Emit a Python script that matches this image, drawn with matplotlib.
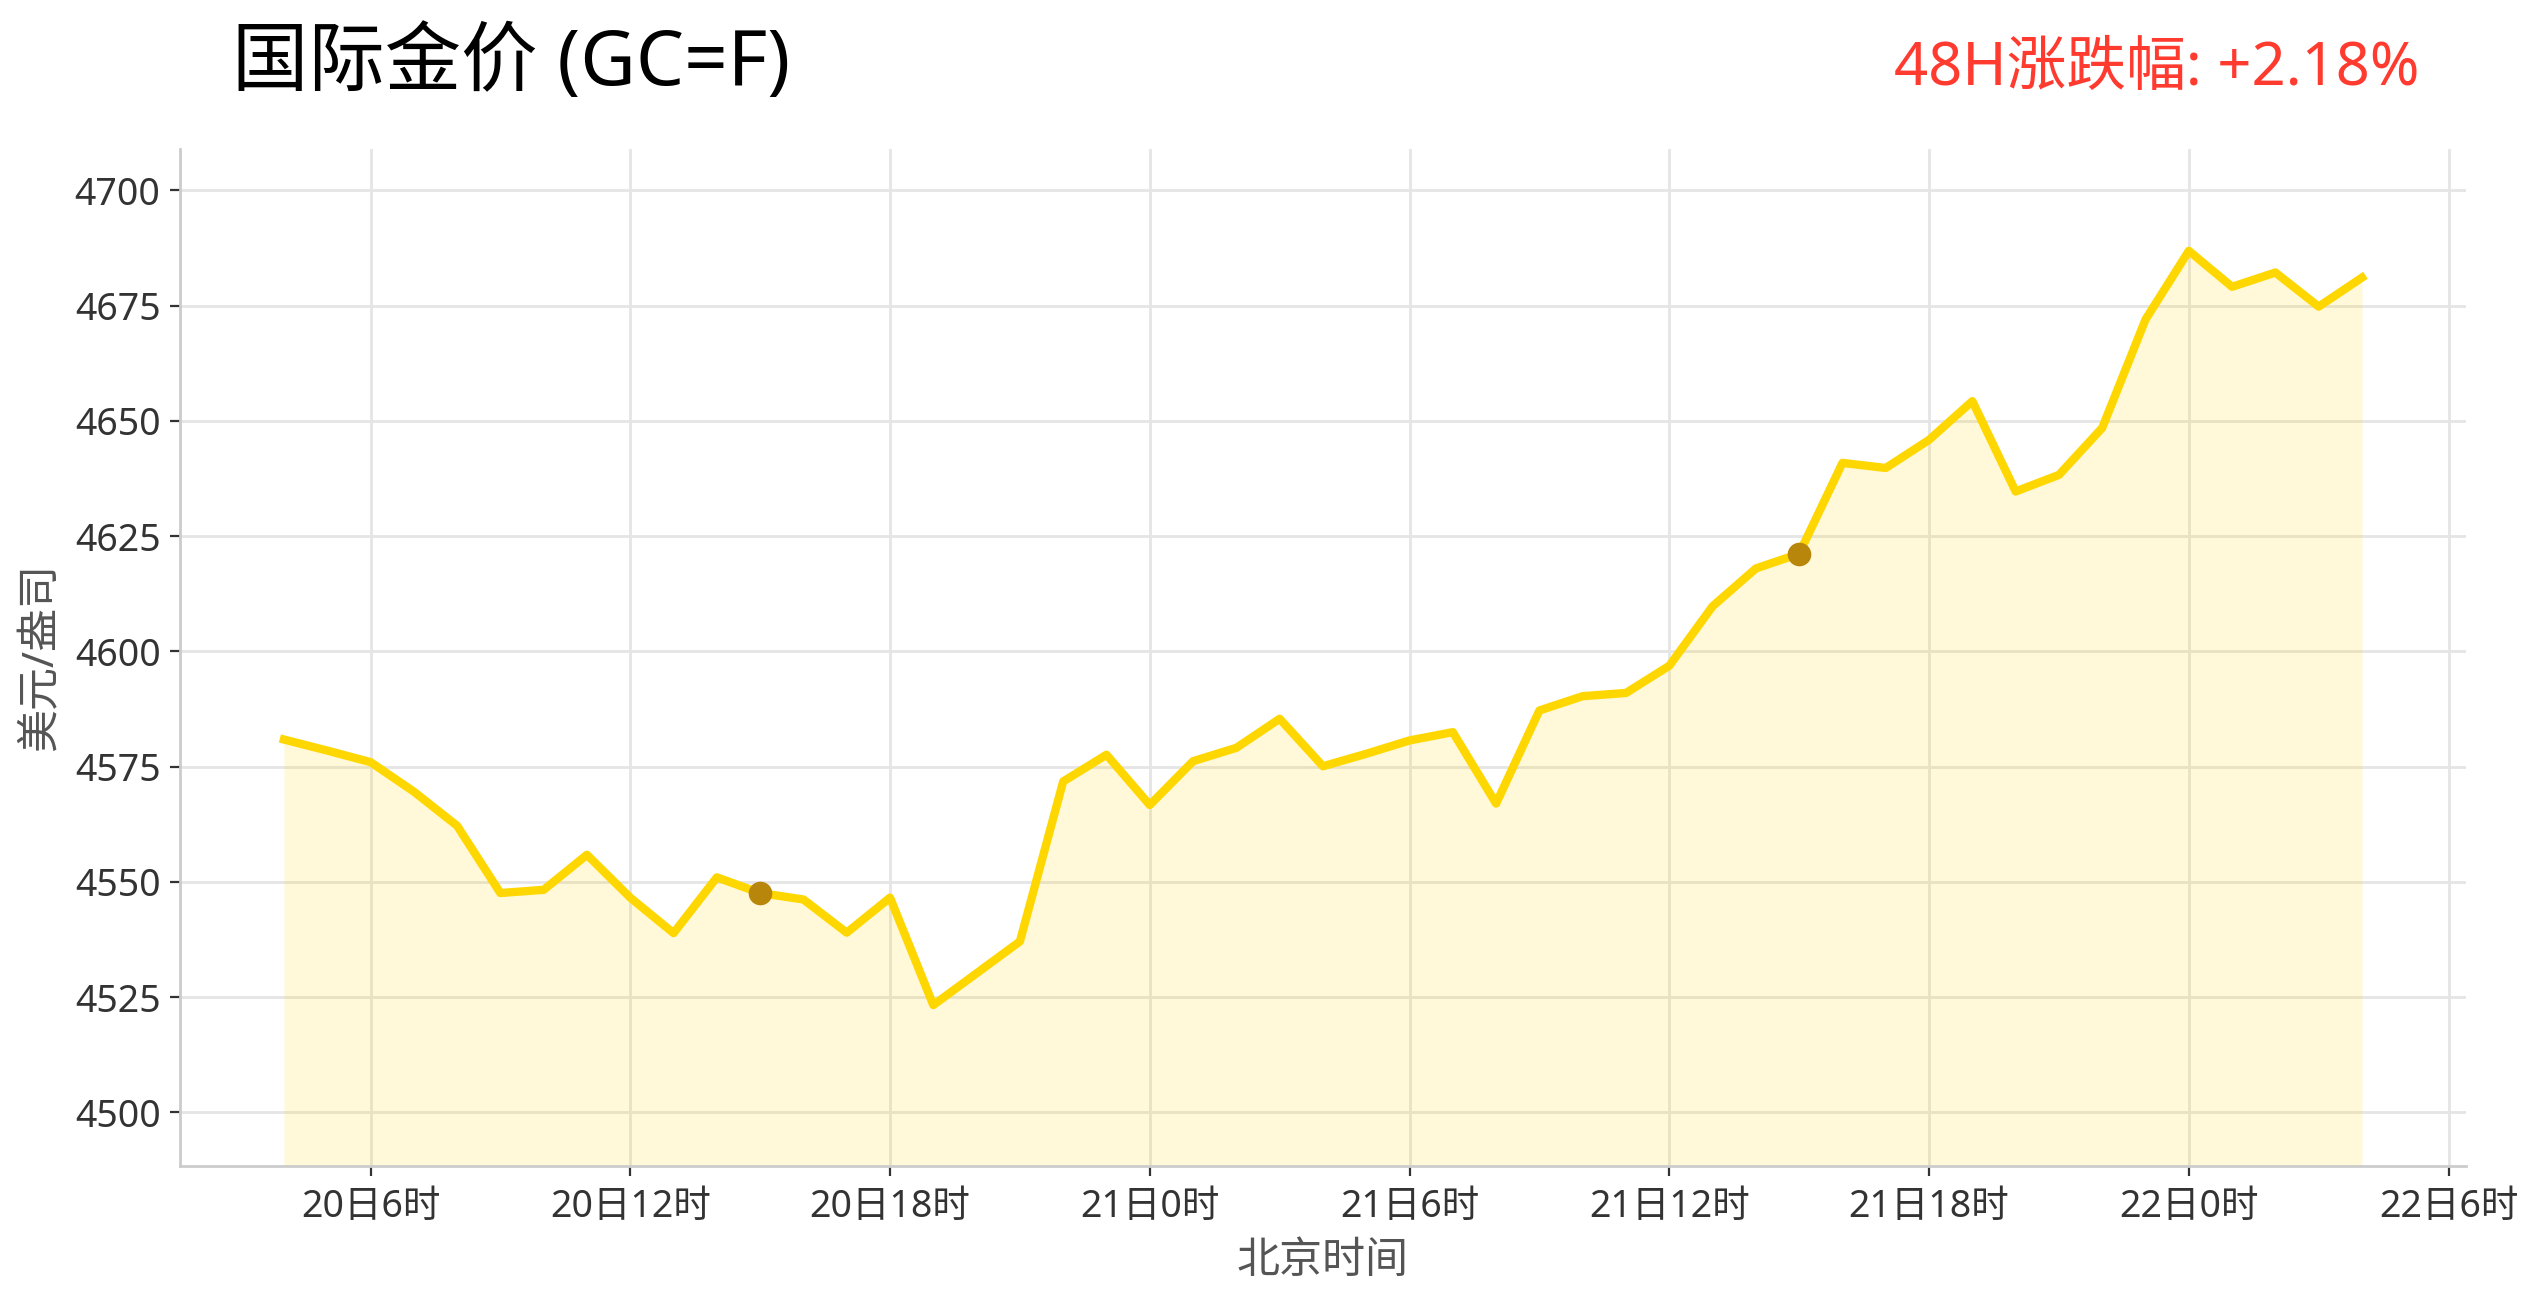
import matplotlib
matplotlib.use("Agg")
import matplotlib.pyplot as plt

plt.rcParams['font.family'] = ['Noto Sans', 'Noto Sans CJK SC', 'DejaVu Sans']

# Hours since 20日0时 (Beijing time)
hours = list(range(4, 53))
prices = [4580.9, 4578.5, 4576.0, 4569.6, 4562.2, 4547.6, 4548.3, 4555.9, 4546.6, 4538.9,
          4551.0, 4547.6, 4546.2, 4539.0, 4546.6, 4523.3, 4530.2, 4537.1, 4571.8, 4577.6,
          4566.7, 4576.2, 4579.1, 4585.4, 4575.1, 4577.8, 4580.7, 4582.5, 4567.0, 4587.2,
          4590.3, 4591.0, 4596.9, 4609.8, 4618.0, 4621.2, 4640.9, 4639.8, 4645.9, 4654.3,
          4634.7, 4638.3, 4648.5, 4672.0, 4686.9, 4679.1, 4682.2, 4674.8, 4681.1]
marker_hours = [15, 39]
marker_prices = [prices[hours.index(h)] for h in marker_hours]

tick_hours = [6, 12, 18, 24, 30, 36, 42, 48, 54]
tick_labels = ["20日6时", "20日12时", "20日18时", "21日0时", "21日6时",
               "21日12时", "21日18时", "22日0时", "22日6时"]
y_ticks = [4500, 4525, 4550, 4575, 4600, 4625, 4650, 4675, 4700]

title = "国际金价 (GC=F)"
change_text = "48H涨跌幅: +2.18%"

fig = plt.figure(figsize=(12.695, 6.51), dpi=200)
ax = fig.add_axes([0.0709, 0.1045, 0.9003, 0.7811])

ymin, ymax = 4488.4, 4709.0
ax.fill_between(hours, prices, ymin, color="#FFD700", alpha=0.15, linewidth=0, zorder=1)
ax.plot(hours, prices, color="#FFD700", linewidth=3.0, zorder=3)
ax.plot(marker_hours, marker_prices, 'o', color="#B8860B", markersize=7.5, zorder=4)

ax.set_ylim(ymin, ymax)
ax.set_xlim(1.6, 54.4)
ax.set_xticks(tick_hours)
ax.set_xticklabels(tick_labels)
ax.set_yticks(y_ticks)

ax.grid(True, color="#E5E5E5", linewidth=1.0, zorder=0)
ax.set_axisbelow(True)
for s in ["top", "right"]:
    ax.spines[s].set_visible(False)
for s in ["left", "bottom"]:
    ax.spines[s].set_color("#CCCCCC")
    ax.spines[s].set_linewidth(1.0)
ax.tick_params(axis='both', labelsize=13.5, colors="#333333", length=3.5, width=0.8)
ax.tick_params(axis='x', pad=4.5)

ax.set_xlabel("北京时间", fontsize=15.5, color="#555555", labelpad=5)
ax.set_ylabel("美元/盎司", fontsize=15.5, color="#555555", labelpad=4)

fig.text(0.0914, 0.935, title, fontsize=27.5, color="black", ha="left", va="baseline")
fig.text(0.953, 0.935, change_text, fontsize=21.5, color="#FF3B30", ha="right", va="baseline")

fig.savefig("out.png", dpi=200)
